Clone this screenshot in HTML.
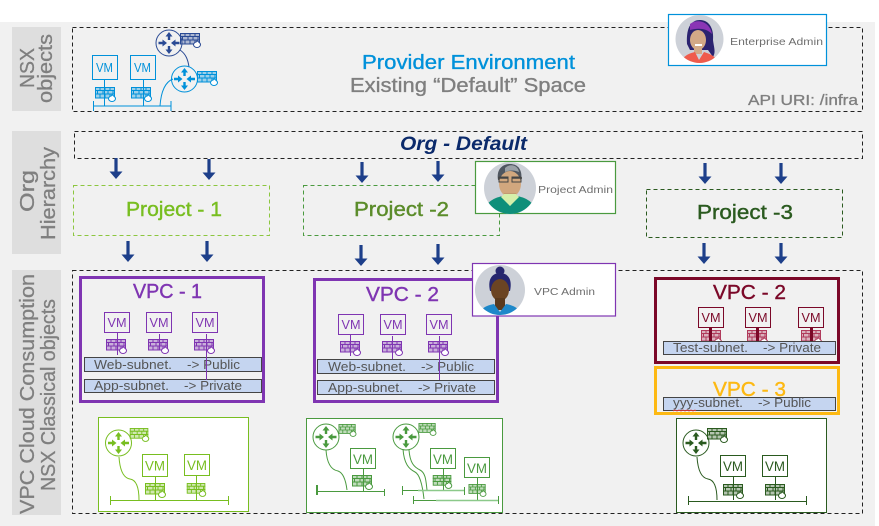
<!DOCTYPE html>
<html><head><meta charset="utf-8"><style>
html,body{margin:0;padding:0;background:#fff}
svg{display:block}
text{font-family:"Liberation Sans",sans-serif}
</style></head><body>
<svg width="879" height="526" viewBox="0 0 879 526" xmlns="http://www.w3.org/2000/svg">
<defs>
<symbol id="fw" viewBox="0 0 21 14" overflow="visible">
<g fill="none" stroke="currentColor" stroke-width="1">
<rect x=".5" y=".5" width="19" height="10.500" fill="currentColor" fill-opacity=".35"/>
<path d="M0 3.500H20M0 7H20M5 .5V3.500M10 .5V3.500M15 .5V3.500M2.500 3.500V7M8 3.500V7M13 3.500V7M18 3.500V7M5 7V11M10 7V11M15 7V11"/>
</g>
<path d="M17 7.500C18 9 20.500 9.500 20.500 11.500A3.500 3 0 0 1 13.500 11.500C13.500 10 15 10 15 9C16 9.500 16.500 9 17 7.500Z" fill="#fff" stroke="currentColor" stroke-width="1"/>
</symbol>
<symbol id="rt" viewBox="-14 -14 28 28" overflow="visible">
<circle r="13" fill="none" stroke="currentColor" stroke-width="1"/>
<g fill="currentColor">
<path d="M-1.200 -3H1.200V-6.500H3.500L0 -11L-3.500 -6.500H-1.200Z"/>
<path d="M-1.200 3H1.200V6.500H3.500L0 11L-3.500 6.500H-1.200Z"/>
<path d="M-10.500 -1.200H-6.500V-3.500L-2 0L-6.500 3.500V1.200H-10.500Z"/>
<path d="M10.500 -1.200H6.500V-3.500L2 0L6.500 3.500V1.200H10.500Z"/>
</g>
</symbol>
<symbol id="ar" viewBox="-7 0 14 22" overflow="visible">
<path d="M-1.600 0H1.600V13.500H6.500L0 21L-6.500 13.500H-1.600Z" fill="#1d3f8a"/>
</symbol>
<clipPath id="c1"><circle cx="699.500" cy="39" r="24"/></clipPath>
<clipPath id="c2"><circle cx="510" cy="188" r="26"/></clipPath>
<clipPath id="c3"><circle cx="500" cy="290" r="25"/></clipPath>
</defs>

<rect x="0" y="22" width="875" height="504" fill="#f1f1f1"/>

<!-- side labels -->
<rect x="12" y="27" width="49" height="84" fill="#dedede"/>
<rect x="12" y="131" width="49" height="123" fill="#dedede"/>
<rect x="12" y="270" width="49" height="245" fill="#dedede"/>
<g fill="#7f7f7f" font-size="20" stroke="#7f7f7f" stroke-width=".3">
<text transform="translate(34,88) rotate(-90)" textLength="40" lengthAdjust="spacingAndGlyphs">NSX</text>
<text transform="translate(52,103) rotate(-90)" textLength="69" lengthAdjust="spacingAndGlyphs">objects</text>
<text transform="translate(34,212) rotate(-90)" textLength="42" lengthAdjust="spacingAndGlyphs">Org</text>
<text transform="translate(55,240) rotate(-90)" textLength="93" lengthAdjust="spacingAndGlyphs">Hierarchy</text>
<text transform="translate(34,514) rotate(-90)" textLength="240" lengthAdjust="spacingAndGlyphs">VPC Cloud Consumption</text>
<text transform="translate(55,491) rotate(-90)" textLength="192" lengthAdjust="spacingAndGlyphs">NSX Classical objects</text>
</g>

<!-- dashed containers -->
<g fill="none" stroke="#222" stroke-width="1" stroke-dasharray="4 3">
<rect x="72.500" y="27.500" width="790" height="84"/>
<rect x="74.500" y="131.500" width="788" height="27"/>
<rect x="72.500" y="270.500" width="790" height="243"/>
</g>

<!-- provider -->
<g color="#0091da" stroke="#0091da" fill="none" stroke-width="1">
<rect x="92.500" y="55.500" width="25" height="24"/>
<rect x="130.500" y="55.500" width="25" height="24"/>
<path d="M104.500 79.500V106M143.500 79.500V106M93.500 101V111M93.500 106H171M171 101V111M160 106C161 92 165 82 173 79"/>
</g>
<g fill="#0091da" font-size="13"><text x="96" y="72" textLength="17" lengthAdjust="spacingAndGlyphs">VM</text><text x="134" y="72" textLength="17" lengthAdjust="spacingAndGlyphs">VM</text></g>
<use href="#fw" x="95" y="87" width="21" height="14" color="#0091da"/>
<use href="#fw" x="131" y="87" width="21" height="14" color="#0091da"/>
<path d="M180 50C186 54 188 60 189 67" fill="none" stroke="#2a4a94"/>
<use href="#rt" x="155" y="29" width="28" height="28" color="#2a4a94"/>
<use href="#fw" x="180" y="33" width="21" height="14" color="#2a4a94"/>
<use href="#rt" x="170.500" y="65" width="28" height="28" color="#0091da"/>
<use href="#fw" x="197" y="71" width="21" height="14" color="#0091da"/>
<text x="362" y="69" font-size="20" fill="#0091da" stroke="#0091da" stroke-width=".35" textLength="213" lengthAdjust="spacingAndGlyphs">Provider Environment</text>
<text x="350" y="92" font-size="20" fill="#7f7f7f" stroke="#7f7f7f" stroke-width=".35" textLength="236" lengthAdjust="spacingAndGlyphs">Existing “Default” Space</text>
<text x="748" y="105" font-size="14.500" fill="#7f7f7f" stroke="#7f7f7f" stroke-width=".3" textLength="110" lengthAdjust="spacingAndGlyphs">API URI: /infra</text>

<text x="400" y="150" font-size="19" font-style="italic" font-weight="bold" fill="#0b2a6b" textLength="127" lengthAdjust="spacingAndGlyphs">Org - Default</text>

<!-- arrows -->
<use href="#ar" x="109" y="158" width="14" height="22"/>
<use href="#ar" x="202" y="159" width="14" height="22"/>
<use href="#ar" x="355" y="162" width="14" height="22"/>
<use href="#ar" x="431" y="161" width="14" height="22"/>
<use href="#ar" x="698" y="163" width="14" height="22"/>
<use href="#ar" x="774" y="163" width="14" height="22"/>
<use href="#ar" x="121" y="241" width="14" height="22"/>
<use href="#ar" x="200" y="241" width="14" height="22"/>
<use href="#ar" x="354" y="245" width="14" height="22"/>
<use href="#ar" x="431" y="244" width="14" height="22"/>
<use href="#ar" x="697" y="243" width="14" height="22"/>
<use href="#ar" x="774" y="243" width="14" height="22"/>

<!-- projects -->
<rect x="73.500" y="185.500" width="196" height="50" fill="none" stroke="#8cc63f" stroke-dasharray="4 3"/>
<rect x="303.500" y="185.500" width="196" height="50" fill="none" stroke="#4a9a3f" stroke-dasharray="4 3"/>
<rect x="646.500" y="189.500" width="196" height="48" fill="none" stroke="#2a5a1f" stroke-dasharray="4 3"/>
<text x="126" y="216" font-size="20" fill="#78be20" stroke="#78be20" stroke-width=".4" textLength="96" lengthAdjust="spacingAndGlyphs">Project - 1</text>
<text x="354" y="216" font-size="20" fill="#5b8c2a" stroke="#5b8c2a" stroke-width=".4" textLength="95" lengthAdjust="spacingAndGlyphs">Project -2</text>
<text x="697" y="219" font-size="20" fill="#2a5a1f" stroke="#2a5a1f" stroke-width=".4" textLength="96" lengthAdjust="spacingAndGlyphs">Project -3</text>

<!-- VPC 1 -->
<rect x="80.500" y="277.500" width="183" height="124" fill="none" stroke="#7f35b2" stroke-width="3"/>
<text x="133" y="298" font-size="20.500" fill="#7f35b2" stroke="#7f35b2" stroke-width=".4" textLength="69" lengthAdjust="spacingAndGlyphs">VPC - 1</text>
<g fill="none" stroke="#7f35b2">
<rect x="104.500" y="312.500" width="25" height="20"/><rect x="146.500" y="312.500" width="25" height="20"/><rect x="192.500" y="312.500" width="25" height="20"/>
</g>
<g fill="#7f35b2" font-size="13">
<text x="107.500" y="327" textLength="19" lengthAdjust="spacingAndGlyphs">VM</text><text x="149.500" y="327" textLength="19" lengthAdjust="spacingAndGlyphs">VM</text><text x="195.500" y="327" textLength="19" lengthAdjust="spacingAndGlyphs">VM</text>
</g>
<use href="#fw" x="106" y="339" width="21" height="14" color="#7f35b2"/>
<use href="#fw" x="148" y="339" width="21" height="14" color="#7f35b2"/>
<use href="#fw" x="194" y="339" width="21" height="14" color="#7f35b2"/>
<rect x="84.500" y="357.500" width="177" height="14" fill="#c5d5f0" stroke="#444"/>
<rect x="84.500" y="379.500" width="177" height="13" fill="#c5d5f0" stroke="#444"/>
<g fill="#555" font-size="13">
<text x="94" y="369" textLength="78" lengthAdjust="spacingAndGlyphs">Web-subnet.</text><text x="187" y="369" textLength="53" lengthAdjust="spacingAndGlyphs">-&gt; Public</text>
<text x="94" y="390" textLength="75" lengthAdjust="spacingAndGlyphs">App-subnet.</text><text x="184" y="390" textLength="58" lengthAdjust="spacingAndGlyphs">-&gt; Private</text>
</g>
<path d="M117.500 332V355M159.500 334V350M206.500 334V380" stroke="#7f35b2" fill="none"/>

<!-- VPC 2 purple -->
<rect x="314.500" y="279.500" width="183" height="122" fill="none" stroke="#7f35b2" stroke-width="3"/>
<text x="366" y="301" font-size="20.500" fill="#7f35b2" stroke="#7f35b2" stroke-width=".4" textLength="73" lengthAdjust="spacingAndGlyphs">VPC - 2</text>
<g fill="none" stroke="#7f35b2">
<rect x="338.500" y="314.500" width="25" height="20"/><rect x="380.500" y="314.500" width="25" height="20"/><rect x="426.500" y="314.500" width="25" height="20"/>
</g>
<g fill="#7f35b2" font-size="13">
<text x="341.500" y="329" textLength="19" lengthAdjust="spacingAndGlyphs">VM</text><text x="383.500" y="329" textLength="19" lengthAdjust="spacingAndGlyphs">VM</text><text x="429.500" y="329" textLength="19" lengthAdjust="spacingAndGlyphs">VM</text>
</g>
<use href="#fw" x="340" y="341" width="21" height="14" color="#7f35b2"/>
<use href="#fw" x="382" y="341" width="21" height="14" color="#7f35b2"/>
<use href="#fw" x="428" y="341" width="21" height="14" color="#7f35b2"/>
<rect x="317.500" y="359.500" width="177" height="14" fill="#c5d5f0" stroke="#444"/>
<rect x="317.500" y="380.500" width="177" height="14" fill="#c5d5f0" stroke="#444"/>
<g fill="#555" font-size="13">
<text x="328" y="371" textLength="78" lengthAdjust="spacingAndGlyphs">Web-subnet.</text><text x="421" y="371" textLength="53" lengthAdjust="spacingAndGlyphs">-&gt; Public</text>
<text x="328" y="392" textLength="75" lengthAdjust="spacingAndGlyphs">App-subnet.</text><text x="418" y="392" textLength="58" lengthAdjust="spacingAndGlyphs">-&gt; Private</text>
</g>
<path d="M350.500 334V356M392.500 336V359M439.500 336V380" stroke="#7f35b2" fill="none"/>

<!-- VPC 2 red -->
<rect x="655.500" y="278.500" width="183" height="84" fill="none" stroke="#7b0828" stroke-width="3"/>
<text x="713" y="299" font-size="20.500" fill="#7b0828" stroke="#7b0828" stroke-width=".4" textLength="73" lengthAdjust="spacingAndGlyphs">VPC - 2</text>
<g fill="none" stroke="#7b0828">
<rect x="698.500" y="307.500" width="25" height="20"/><rect x="745.500" y="307.500" width="25" height="20"/><rect x="798.500" y="307.500" width="25" height="20"/>
</g>
<g fill="#7b0828" font-size="13">
<text x="701.500" y="322" textLength="19" lengthAdjust="spacingAndGlyphs">VM</text><text x="748.500" y="322" textLength="19" lengthAdjust="spacingAndGlyphs">VM</text><text x="801.500" y="322" textLength="19" lengthAdjust="spacingAndGlyphs">VM</text>
</g>
<use href="#fw" x="701" y="330" width="21" height="14" color="#b03a5b"/>
<use href="#fw" x="747" y="330" width="21" height="14" color="#b03a5b"/>
<use href="#fw" x="801" y="330" width="21" height="14" color="#b03a5b"/>
<path d="M710.500 327V342M757.500 327V342M811.500 327V342" stroke="#7b0828" stroke-width="3" fill="none"/>
<rect x="663.500" y="341.500" width="172" height="13" fill="#c5d5f0" stroke="#444"/>
<g fill="#555" font-size="13">
<text x="673" y="352" textLength="75" lengthAdjust="spacingAndGlyphs">Test-subnet.</text><text x="763" y="352" textLength="58" lengthAdjust="spacingAndGlyphs">-&gt; Private</text>
</g>

<!-- VPC 3 -->
<rect x="655.500" y="367.500" width="183" height="46" fill="none" stroke="#fdb913" stroke-width="3"/>
<text x="713" y="396" font-size="20.500" fill="#fdb913" stroke="#fdb913" stroke-width=".4" textLength="73" lengthAdjust="spacingAndGlyphs">VPC - 3</text>
<rect x="663.500" y="397.500" width="172" height="13" fill="#c5d5f0" stroke="#444"/>
<g fill="#555" font-size="13">
<text x="673" y="407" textLength="70" lengthAdjust="spacingAndGlyphs">yyy-subnet.</text><text x="758" y="407" textLength="53" lengthAdjust="spacingAndGlyphs">-&gt; Public</text>
</g>
<path d="M673 411l2 -1l2 1l2 -1l2 1l2 -1l2 1l2 -1l2 1l2 -1l2 1l2 -1l1 1" fill="none" stroke="#e33" stroke-width=".8"/>

<!-- Green box A -->
<rect x="98.500" y="417.500" width="150" height="94" fill="#fff" stroke="#78be20"/>
<g fill="none" stroke="#78be20">
<rect x="142.500" y="454.500" width="25" height="22" stroke-width="1"/>
<rect x="184.500" y="454.500" width="25" height="21"/>
<path d="M155.500 476V500M196.500 475V500M110.500 496V505M110.500 500.500H228M228.500 496V505M119 457C120 472 124 478 130 479C137 480 139 490 139 500"/>
</g>
<use href="#rt" x="104.500" y="429" width="28" height="28" color="#78be20"/>
<use href="#fw" x="129" y="428" width="21" height="13" color="#78be20"/>
<use href="#fw" x="145" y="483" width="21" height="14" color="#78be20"/>
<use href="#fw" x="186" y="483" width="21" height="13" color="#78be20"/>
<g fill="#78be20" font-size="14"><text x="145" y="470.500" textLength="20" lengthAdjust="spacingAndGlyphs">VM</text><text x="187" y="470" textLength="20" lengthAdjust="spacingAndGlyphs">VM</text></g>

<!-- Green box B -->
<rect x="306.500" y="418.500" width="196" height="94" fill="#fff" stroke="#4a9a3f"/>
<g fill="none" stroke="#4a9a3f">
<rect x="350.500" y="448.500" width="25" height="20"/>
<rect x="430.500" y="448.500" width="25" height="20"/>
<rect x="464.500" y="457.500" width="25" height="20"/>
<path d="M363.500 468V491M443.500 468V490M477.500 477V500M317 491.500H384M384.500 489V496M402.500 486V495M402.500 490.500H464M464.500 487V495M413.500 496V504M413.500 500.500H498M498.500 496V504M326 450C327 465 332 470 338 471C344 473 346 482 347 490"/>
<path d="M317 485V495" stroke-width="2"/>
<path d="M403 449C404 464 409 469 415 472C421 475 423 490 424 499M409 450C410 463 414 467 420 470C426 473 426 482 427 490"/>
<path d="M418 490.500H464M436 500.500H498" stroke="#8cc98a" stroke-width="1.500"/>
</g>
<use href="#rt" x="312" y="423" width="28" height="28" color="#4a9a3f"/>
<use href="#fw" x="337" y="424" width="21" height="12" color="#4a9a3f"/>
<use href="#fw" x="352" y="475" width="21" height="14" color="#4a9a3f"/>
<use href="#rt" x="392" y="423" width="28" height="28" color="#4a9a3f"/>
<use href="#fw" x="417" y="423" width="21" height="12" color="#4a9a3f"/>
<use href="#fw" x="432" y="475" width="21" height="13" color="#4a9a3f"/>
<use href="#fw" x="467" y="484" width="21" height="12" color="#4a9a3f"/>
<g fill="#4a9a3f" font-size="14"><text x="353" y="464" textLength="20" lengthAdjust="spacingAndGlyphs">VM</text><text x="433" y="464" textLength="20" lengthAdjust="spacingAndGlyphs">VM</text><text x="467" y="473" textLength="20" lengthAdjust="spacingAndGlyphs">VM</text></g>

<!-- Green box C -->
<rect x="676.500" y="418.500" width="150" height="94" fill="#fff" stroke="#2a5a1f"/>
<g fill="none" stroke="#2a5a1f">
<rect x="720.500" y="455.500" width="25" height="21"/>
<rect x="762.500" y="455.500" width="25" height="21"/>
<path d="M733.500 476V500M775.500 476V500M688.500 496V505M688.500 501.500H806M806.500 496V505M697 457C698 472 702 478 708 479C715 480 717 490 717 500"/>
</g>
<use href="#rt" x="682" y="429" width="28" height="28" color="#2a5a1f"/>
<use href="#fw" x="707" y="428" width="21" height="14" color="#2a5a1f"/>
<use href="#fw" x="723" y="484" width="21" height="14" color="#2a5a1f"/>
<use href="#fw" x="765" y="484" width="21" height="14" color="#2a5a1f"/>
<g fill="#2a5a1f" font-size="14"><text x="723" y="471" textLength="20" lengthAdjust="spacingAndGlyphs">VM</text><text x="765" y="471" textLength="20" lengthAdjust="spacingAndGlyphs">VM</text></g>

<!-- Enterprise admin -->
<rect x="668.500" y="14.500" width="158" height="51" fill="#fff" stroke="#0091da" stroke-width="1.200"/>
<circle cx="699.500" cy="39" r="24" fill="#cdd1d8"/>
<g clip-path="url(#c1)">
<path d="M687 44C686 26 692 20 700 20C710 20 714 30 713 40C714 48 716 52 713 57L708 50H690Z" fill="#2b2370"/>
<path d="M690 24C698 18 710 22 712 34C706 28 698 28 690 30Z" fill="#8a35b5"/>
<ellipse cx="698" cy="40" rx="8" ry="10" fill="#d3a987"/>
<path d="M694 47H702V54H694Z" fill="#d3a987"/>
<path d="M680 64C682 56 690 53 695 52L699 60L704 52C710 54 716 56 719 64Z" fill="#ef5b4c"/>
<path d="M695 44H702V46H695Z" fill="#fff"/>
</g>
<text x="730" y="45" font-size="10.500" fill="#6f6f6f" textLength="93" lengthAdjust="spacingAndGlyphs">Enterprise Admin</text>

<!-- Project admin -->
<rect x="475.500" y="161.500" width="140" height="52" fill="#fff" stroke="#4a9a3f" stroke-width="1.200"/>
<circle cx="510" cy="188" r="26" fill="#cdd1d8"/>
<g clip-path="url(#c2)">
<path d="M498 180C496 168 504 164 510 164C518 164 523 170 521 181Z" fill="#4f5660"/>
<path d="M505 168C510 163 518 165 519 172C514 170 510 170 505 172Z" fill="#9aa0a6"/>
<ellipse cx="510" cy="184" rx="11" ry="13" fill="#d1a77e"/>
<rect x="504" y="193" width="12" height="10" fill="#c19a72"/>
<path d="M498 178H508M512 178H522" stroke="#444" stroke-width="1.500"/>
<rect x="499" y="177" width="9" height="5" fill="none" stroke="#444"/><rect x="512" y="177" width="9" height="5" fill="none" stroke="#444"/>
<path d="M484 214C484 204 492 198 503 196L510 206L517 196C528 198 536 204 536 214Z" fill="#0f8f7a"/>
<path d="M501 197L510 206L519 197L516 194H504Z" fill="#d5efaa"/>
</g>
<text x="538" y="193" font-size="10.500" fill="#6f6f6f" textLength="75" lengthAdjust="spacingAndGlyphs">Project Admin</text>

<!-- VPC admin -->
<rect x="472.500" y="263.500" width="143" height="52.500" fill="#fff" stroke="#7f35b2" stroke-width="1.200"/>
<circle cx="500" cy="290" r="25" fill="#cdd1d8"/>
<g clip-path="url(#c3)">
<circle cx="500" cy="271" r="4.500" fill="#26266e"/>
<path d="M490 291C487 277 494 273 500 273C506 273 513 277 510 291Z" fill="#26266e"/>
<ellipse cx="500" cy="290" rx="9" ry="11" fill="#6b4423"/>
<path d="M495 298H505V310H495Z" fill="#5a3a1e"/>
<path d="M477 316C480 308 488 305 494 304L500 312L506 304C512 305 520 308 523 316Z" fill="#1e88c9"/>
</g>
<text x="534" y="295" font-size="10.500" fill="#6f6f6f" textLength="61" lengthAdjust="spacingAndGlyphs">VPC Admin</text>
</svg>
</body></html>
